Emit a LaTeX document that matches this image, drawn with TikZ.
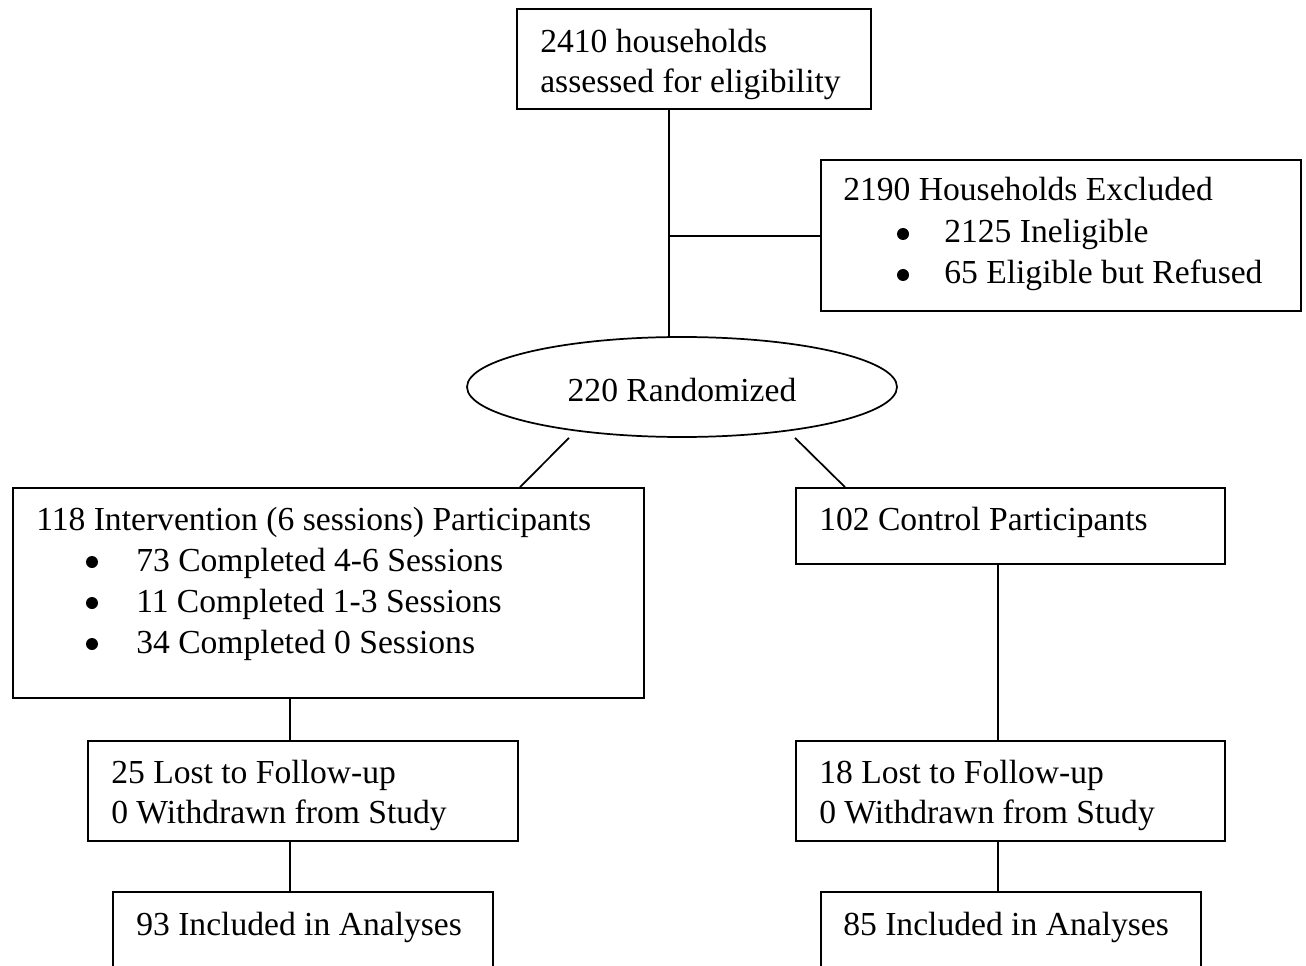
\documentclass[tikz,border=0pt]{standalone}
\usepackage{fontspec}
\setmainfont{Liberation Serif}
\usetikzlibrary{shapes.geometric}
\begin{document}
\begin{tikzpicture}[x=0.75pt,y=-0.75pt,
  box/.style={draw=black,line width=1.3pt,rectangle,inner sep=0pt},
  txt/.style={anchor=base west,inner sep=0pt,font=\fontsize{25.2}{30}\selectfont},
  dot/.style={circle,fill=black,inner sep=0pt,minimum size=12*0.75pt},
  conn/.style={draw=black,line width=1.3pt}]
\clip (0,0) rectangle (1306,966);
\fill[white] (0,0) rectangle (1306,966);
% boxes
\node[box,minimum width=354*0.75pt,minimum height=100*0.75pt] (top) at (694,59) {};
\node[box,minimum width=480*0.75pt,minimum height=151*0.75pt] (excl) at (1061,235.5) {};
\node[draw=black,line width=1.3pt,ellipse,inner sep=0pt,minimum width=430*0.75pt,minimum height=100*0.75pt] (rand) at (682,387) {};
\node[box,minimum width=631*0.75pt,minimum height=210*0.75pt] (int) at (328.5,593) {};
\node[box,minimum width=429*0.75pt,minimum height=76*0.75pt] (ctrl) at (1010.5,526) {};
\node[box,minimum width=430*0.75pt,minimum height=100*0.75pt] (lostL) at (303,791) {};
\node[box,minimum width=429*0.75pt,minimum height=100*0.75pt] (lostR) at (1010.5,791) {};
\node[box,minimum width=380*0.75pt,minimum height=110*0.75pt] (anL) at (303,947) {};
\node[box,minimum width=380*0.75pt,minimum height=110*0.75pt] (anR) at (1011,947) {};
% texts
\node[txt,anchor=base] (rt) at (682,401) {220 Randomized};
\node[txt] (t1) at (540,53) {2410 households};
\node[txt] (t2) at (540,93) {assessed for eligibility};
\node[txt] (e1) at (843,201) {2190 Households Excluded};
\node[dot] (eb1) at (903,234) {};
\node[txt] (e2) at (944,243) {2125 Ineligible};
\node[dot] (eb2) at (903,275) {};
\node[txt] (e3) at (944,284) {65 Eligible but Refused};
\node[txt] (i1) at (36,530) {118 Intervention (6 sessions) Participants};
\node[dot] (ib1) at (92,562) {};
\node[txt] (i2) at (136,571) {73 Completed 4-6 Sessions};
\node[dot] (ib2) at (92,603) {};
\node[txt] (i3) at (136,612) {11 Completed 1-3 Sessions};
\node[dot] (ib3) at (92,644) {};
\node[txt] (i4) at (136,653) {34 Completed 0 Sessions};
\node[txt] (c1) at (819,530) {102 Control Participants};
\node[txt] (l1) at (111,783) {25 Lost to Follow-up};
\node[txt] (l2) at (111,823) {0 Withdrawn from Study};
\node[txt] (r1) at (819,783) {18 Lost to Follow-up};
\node[txt] (r2) at (819,823) {0 Withdrawn from Study};
\node[txt] (a1) at (136,935) {93 Included in Analyses};
\node[txt] (a2) at (843,935) {85 Included in Analyses};
% connectors
\coordinate (j) at (669,236);
\draw[conn] (top.south -| j) -- (rand.north -| j);
\draw[conn] (j) -- (j -| excl.west);
\draw[conn] ([xshift=-113*0.75pt]rand.south) -- ([xshift=191.5*0.75pt]int.north);
\draw[conn] ([xshift=113*0.75pt]rand.south) -- ([xshift=-165.5*0.75pt]ctrl.north);
\draw[conn] ([xshift=-13*0.75pt]lostL.north) coordinate (p1) -- (p1 |- int.south);
\draw[conn] ([xshift=-13*0.75pt]anL.north) coordinate (p2) -- (p2 |- lostL.south);
\draw[conn] ([xshift=-12.5*0.75pt]lostR.north) coordinate (p3) -- (p3 |- ctrl.south);
\draw[conn] ([xshift=-13*0.75pt]anR.north) coordinate (p4) -- (p4 |- lostR.south);
\end{tikzpicture}
\end{document}
